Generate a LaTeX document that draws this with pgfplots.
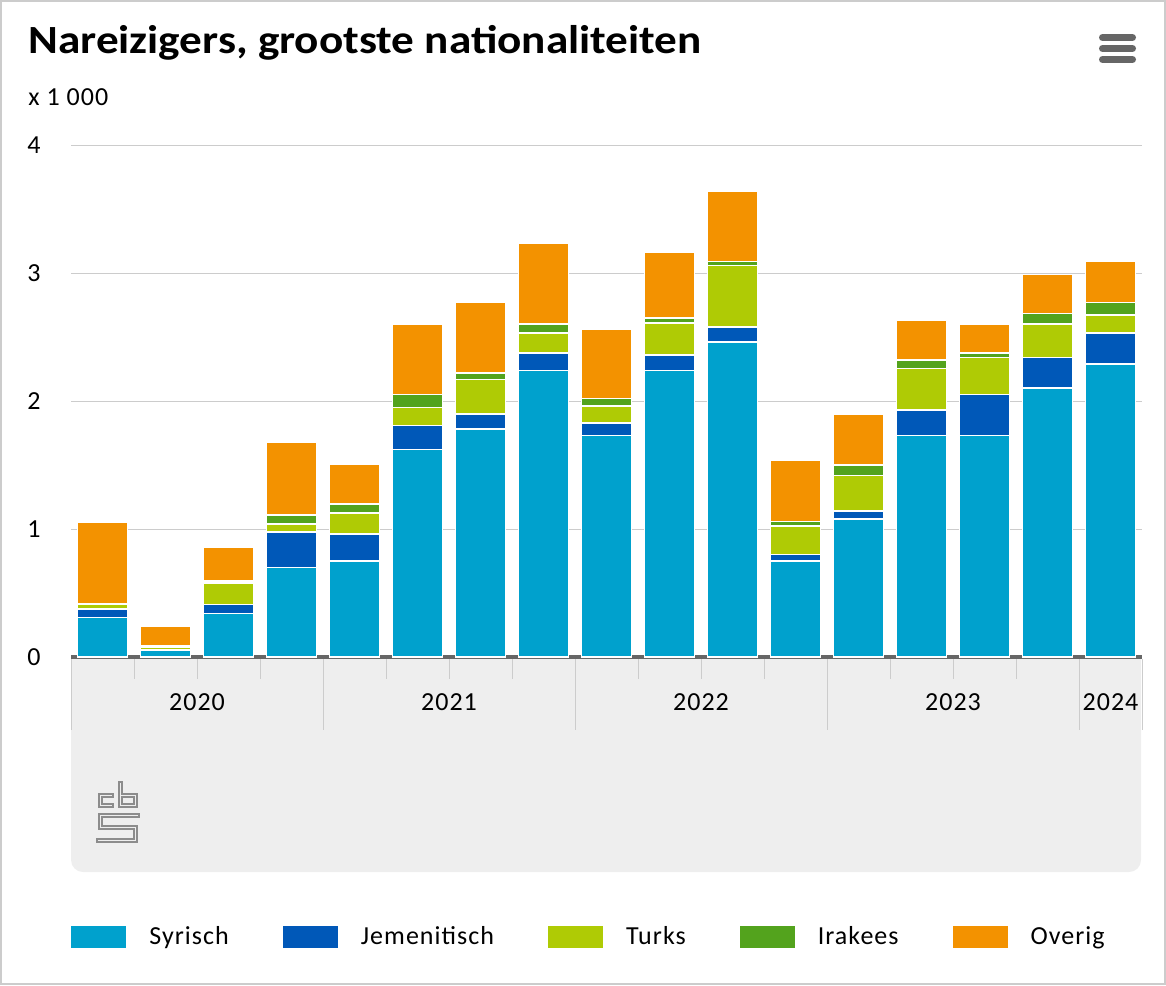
\documentclass[border=0pt]{standalone}
\usepackage{pgfplots}
\usepackage{pgfplotstable}
\pgfplotsset{compat=1.18}
\usepackage{fontspec}
\setmainfont{Carlito}
\newfontfamily\lsfont{Carlito}[LetterSpace=4]
\definecolor{cSy}{HTML}{00A1CD}
\definecolor{cJe}{HTML}{0058B8}
\definecolor{cTu}{HTML}{AFCB05}
\definecolor{cIr}{HTML}{53A31D}
\definecolor{cOv}{HTML}{F39200}
\definecolor{gridc}{HTML}{CCCCCC}
\definecolor{boxc}{HTML}{EEEEEE}
\definecolor{axc}{HTML}{666666}
\definecolor{logoc}{HTML}{8C8C8C}

\pgfplotstableread{
x S J T I O
0 0.31 0.065 0.035 0.005 0.64
1 0.05 0.01 0.02 0.01 0.15
2 0.34 0.07 0.17 0.015 0.26
3 0.70 0.275 0.065 0.07 0.565
4 0.75 0.21 0.165 0.07 0.31
5 1.62 0.19 0.14 0.10 0.55
6 1.78 0.12 0.27 0.05 0.55
7 2.24 0.135 0.155 0.07 0.63
8 1.73 0.10 0.13 0.06 0.54
9 2.24 0.12 0.25 0.04 0.51
10 2.46 0.12 0.48 0.03 0.55
11 0.75 0.05 0.225 0.035 0.48
12 1.08 0.06 0.28 0.08 0.40
13 1.73 0.20 0.325 0.065 0.31
14 1.73 0.32 0.29 0.035 0.225
15 2.10 0.24 0.26 0.085 0.305
16 2.29 0.24 0.14 0.10 0.32
}\data

\pgfplotsset{
  sw/.style={legend image code/.code={\fill[##1,draw=none] (0pt,-5.5pt) rectangle (27.5pt,5.5pt);}},
}
\newcommand\logopaths[1]{%
  \draw[#1] (56pt,-397.75pt) -- (50.25pt,-397.75pt) -- (50.25pt,-402.75pt) -- (56pt,-402.75pt);
  \draw[#1] (60.25pt,-391.5pt) -- (60.25pt,-402.75pt) -- (67.75pt,-402.75pt) -- (67.75pt,-397.75pt) -- (60.25pt,-397.75pt);
  \draw[#1] (69pt,-407.75pt) -- (50.25pt,-407.75pt) -- (50.25pt,-413.75pt) -- (67.75pt,-413.75pt) -- (67.75pt,-420.25pt) -- (49pt,-420.25pt);
}

\begin{document}
\begin{tikzpicture}
\useasboundingbox (0,0) rectangle (583pt,-492.5pt);
\draw[gridc, line width=1pt] (0.5pt,-0.5pt) rectangle (582.5pt,-492pt);
% grey area under axis
\fill[boxc] (35.5pt,-328.5pt) -- (570.5pt,-328.5pt) [rounded corners=6pt] -- (570.5pt,-436pt) -- (35.5pt,-436pt) [sharp corners] -- (35.5pt,-328.5pt) -- cycle;
% title
\node[anchor=base west, inner sep=0pt, font=\fontsize{20}{22}\selectfont\bfseries] at (14pt,-26.5pt) {\scalebox{1.13}[1]{Nareizigers, grootste nationaliteiten}};
\node[anchor=base west, inner sep=0pt, font=\fontsize{13}{15}\selectfont\lsfont] at (14pt,-52.5pt) {x 1 000};
% menu icon
\foreach \yy in {18.75,24.25,29.75}{\draw[axc, line width=3.5pt, line cap=round] (551.25pt,-\yy pt) -- (566.25pt,-\yy pt);}
% logo
\logopaths{logoc, line width=2.3pt, line cap=rect}
\logopaths{boxc, line width=0.9pt}
\begin{axis}[
  at={(35.5pt,-328.5pt)}, anchor=south west,
  scale only axis, width=535.5pt, height=256pt,
  xmin=-0.5, xmax=16.5, ymin=0, ymax=4,
  ybar stacked, bar width=25pt,
  xtick=\empty,
  ytick={0,1,2,3,4},
  ymajorgrids, grid style={gridc, line width=0.5pt},
  axis x line*=bottom, axis y line*=left,
  y axis line style={draw=none},
  x axis line style={axc, line width=2pt},
  major tick length=0pt,
  /pgf/number format/assume math mode=true,
  tick label style={font=\fontsize{13}{15}\selectfont\lsfont},
  yticklabel style={anchor=west, inner sep=0pt, xshift=-22pt},
  clip=false,
  legend columns=5,
  legend style={draw=none, fill=none, at={(0,-0.547)}, anchor=west, inner sep=0pt,
    font=\fontsize{13}{15}\selectfont\lsfont,
    /tikz/every even column/.append style={column sep=25pt},
    /tikz/every odd column/.append style={column sep=9.5pt}},
  legend cell align=left,
]
\addplot[fill=cSy, draw=white, line width=0.75pt, sw] table[x=x,y=S]{\data};
\addlegendentry{Syrisch}
\addplot[fill=cJe, draw=white, line width=0.75pt, sw] table[x=x,y=J]{\data};
\addlegendentry{Jemenitisch}
\addplot[fill=cTu, draw=white, line width=0.75pt, sw] table[x=x,y=T]{\data};
\addlegendentry{Turks}
\addplot[fill=cIr, draw=white, line width=0.75pt, sw] table[x=x,y=I]{\data};
\addlegendentry{Irakees}
\addplot[fill=cOv, draw=white, line width=0.75pt, sw] table[x=x,y=O]{\data};
\addlegendentry{Overig}
\pgfplotsinvokeforeach{0.5,1.5,2.5,4.5,5.5,6.5,8.5,9.5,10.5,12.5,13.5,14.5}{
  \draw[gridc, line width=0.5pt] (axis cs:#1,0) ++(0pt,-1pt) -- ++(0pt,-10pt);
}
\pgfplotsinvokeforeach{-0.5,3.5,7.5,11.5,15.5,16.5}{
  \draw[gridc, line width=0.5pt] (axis cs:#1,0) ++(0pt,-1pt) -- ++(0pt,-35.5pt);
}
\node[font=\fontsize{13}{15}\selectfont\lsfont] at (axis cs:1.5,0) [yshift=-22.5pt] {2020};
\node[font=\fontsize{13}{15}\selectfont\lsfont] at (axis cs:5.5,0) [yshift=-22.5pt] {2021};
\node[font=\fontsize{13}{15}\selectfont\lsfont] at (axis cs:9.5,0) [yshift=-22.5pt] {2022};
\node[font=\fontsize{13}{15}\selectfont\lsfont] at (axis cs:13.5,0) [yshift=-22.5pt] {2023};
\node[font=\fontsize{13}{15}\selectfont\lsfont] at (axis cs:16,0) [yshift=-22.5pt] {2024};
\end{axis}
\end{tikzpicture}
\end{document}
